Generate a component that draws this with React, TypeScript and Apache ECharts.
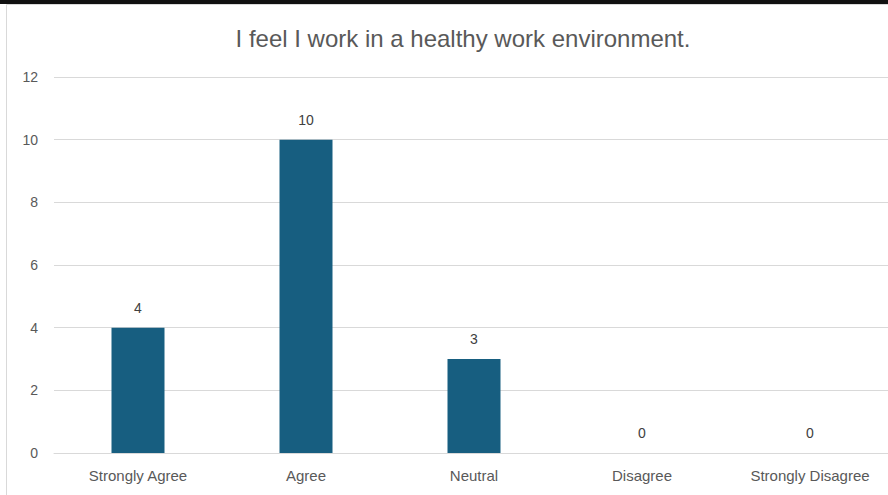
import React, { useEffect, useRef } from "react";
import * as echarts from "echarts";

const categories = ["Strongly Agree", "Agree", "Neutral", "Disagree", "Strongly Disagree"];
const values = [4, 10, 3, 0, 0];
const titleText = "I feel I work in a healthy work environment.";

export default function App() {
  const ref = useRef<HTMLDivElement>(null);
  useEffect(() => {
    const chart = echarts.init(ref.current!, null, { renderer: "svg" });
    const font = "'Liberation Sans', Arial, sans-serif";
    chart.setOption({
      animation: false,
      backgroundColor: "#ffffff",
      title: {
        text: titleText,
        left: 458,
        textAlign: "center",
        top: 21,
        textStyle: { color: "#595959", fontSize: 24, fontWeight: "normal", fontFamily: font },
      },
      graphic: [
        { type: "rect", shape: { x: 0, y: 0, width: 900, height: 4 }, style: { fill: "#111111" }, silent: true },
        {
          type: "rect",
          shape: { x: 6.5, y: 4.5, width: 900, height: 500 },
          style: { fill: "none", stroke: "#d9d9d9", lineWidth: 1 },
          silent: true,
        },
      ],
      grid: { left: 54, right: 0, top: 77, bottom: 42, containLabel: false },
      xAxis: {
        type: "category",
        data: categories,
        axisTick: { show: false },
        axisLine: { show: true, lineStyle: { color: "#d9d9d9", width: 1 } },
        axisLabel: { color: "#595959", fontSize: 15, fontFamily: font, margin: 15 },
      },
      yAxis: {
        type: "value",
        min: 0,
        max: 12,
        interval: 2,
        axisLine: { show: false },
        axisTick: { show: false },
        splitLine: { lineStyle: { color: "#d9d9d9", width: 1 } },
        axisLabel: { color: "#595959", fontSize: 14, fontFamily: font, margin: 16 },
      },
      series: [
        {
          type: "bar",
          data: values,
          barWidth: 53,
          itemStyle: { color: "#175e80" },
          label: {
            show: true,
            position: "top",
            distance: 13,
            color: "#404040",
            fontSize: 14,
            fontFamily: font,
          },
        },
      ],
    });
    return () => chart.dispose();
  }, []);
  return (
    <div style={{ position: "fixed", left: 0, top: 0, width: 888, height: 495, overflow: "hidden" }}>
      <div ref={ref} style={{ width: 894, height: 495 }} />
    </div>
  );
}
